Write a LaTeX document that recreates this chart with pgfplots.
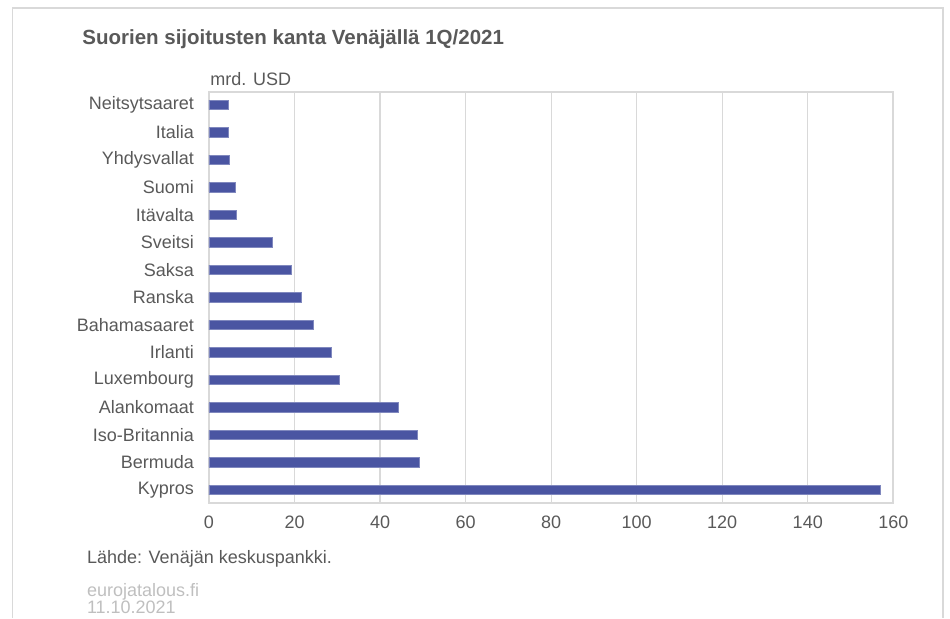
\documentclass[border=0pt]{standalone}
\usepackage{pgfplots}
\pgfplotsset{compat=1.18}
\usepackage{fontspec}
\setmainfont{Liberation Sans}
\definecolor{txt}{HTML}{595959}
\definecolor{lgt}{HTML}{BFBFBF}
\definecolor{grd}{HTML}{D9D9D9}
\definecolor{bar}{HTML}{4A55A2}
\begin{document}
\begin{tikzpicture}[x=1pt,y=1pt]
\path[use as bounding box] (0,0) rectangle (475,309);
\draw[grd, line width=0.6pt] (6.35,0) -- (6.35,305) -- (471.5,305) -- (471.5,0);
\begin{axis}[
  at={(104.5pt,57.5pt)}, anchor=south west,
  scale only axis, width=342.15pt, height=205.5pt,
  xbar, bar width=4.75pt, bar shift=0pt,
  xmin=0, xmax=160, ymin=-0.47, ymax=14.47,
  xtick={0,20,...,160},
  ytick={0,...,14},
  yticklabels={Kypros,Bermuda,Iso-Britannia,Alankomaat,Luxembourg,Irlanti,Bahamasaaret,Ranska,Saksa,Sveitsi,{Itävalta\ },Suomi,Yhdysvallat,Italia,Neitsytsaaret},
  xmajorgrids, major grid style={grd, line width=0.6pt},
  axis line style={grd, line width=0.8pt},
  major tick length=0pt,
  tick label style={font=\fontsize{9}{10}\selectfont, text=txt},
  /pgf/number format/assume math mode=true,
  yticklabel style={xshift=-4pt},
  xticklabel style={yshift=-3pt},
  axis on top=false,
]
\addplot[fill=bar, draw=bar!70!white, line width=0.4pt] coordinates {
(157.0,0) (49.3,1) (48.7,2) (44.2,3) (30.5,4) (28.7,5) (24.3,6) (21.6,7) (19.2,8) (14.8,9) (6.5,10) (6.1,11) (4.85,12) (4.5,13) (4.5,14)
};
\end{axis}
\node[anchor=base west, text=txt, font=\fontsize{10.25}{12}\selectfont\bfseries, inner sep=0pt] at (41,287) {Suorien sijoitusten kanta Venäjällä 1Q/2021};
\node[anchor=base west, text=txt, font=\fontsize{9}{10}\selectfont, inner sep=0pt] at (105,266.5) {mrd. USD};
\node[anchor=base west, text=txt, font=\fontsize{9}{10}\selectfont, inner sep=0pt] at (43.3,27.5) {Lähde: Venäjän keskuspankki.};
\node[anchor=base west, text=lgt, font=\fontsize{9}{10}\selectfont, inner sep=0pt] at (43.3,11) {eurojatalous.fi};
\node[anchor=base west, text=lgt, font=\fontsize{9}{10}\selectfont, inner sep=0pt] at (43.3,2.3) {11.10.2021};
\end{tikzpicture}
\end{document}
